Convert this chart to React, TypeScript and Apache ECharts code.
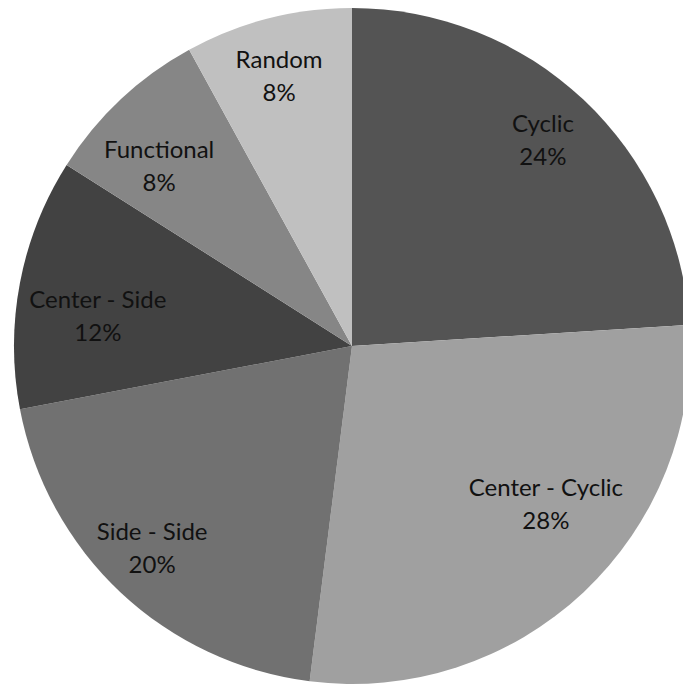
import React, { useEffect, useRef } from "react";
import * as echarts from "echarts";

// Share of each pattern type, in percent, clockwise from 12 o'clock
const categories = ["Cyclic", "Center - Cyclic", "Side - Side", "Center - Side", "Functional", "Random"];
const shares = [24, 28, 20, 12, 8, 8];
const sliceColors = ["#545454", "#a0a0a0", "#717171", "#424242", "#868686", "#c0c0c0"];
// best-fit style nudges for each slice label, [dx, dy] in px
const labelNudges = [
  [4, -8],
  [7, -42],
  [-13, 2],
  [14, 20],
  [-6, 18],
  [-5, -7],
];

export default function App() {
  const ref = useRef<HTMLDivElement>(null);

  useEffect(() => {
    if (!ref.current) return;
    const chart = echarts.init(ref.current, undefined, { renderer: "svg" });
    const center = [352, 346];
    const data = categories.map((name, i) => ({
      name,
      value: shares[i],
      itemStyle: { color: sliceColors[i] },
    }));

    chart.setOption({
      animation: false,
      backgroundColor: "#ffffff",
      series: [
        {
          type: "pie",
          center,
          radius: [0, 338],
          startAngle: 90,
          clockwise: true,
          silent: true,
          label: { show: false },
          labelLine: { show: false },
          data,
        },
        {
          // transparent ring used only to place the slice labels
          type: "pie",
          center,
          radius: [222, 318],
          startAngle: 90,
          clockwise: true,
          silent: true,
          itemStyle: { color: "rgba(0,0,0,0)" },
          label: {
            show: true,
            position: "inside",
            formatter: "{b}\n{c}%",
            color: "#111111",
            fontFamily: "Lato",
            fontSize: 24,
            lineHeight: 33,
            align: "center",
          },
          labelLine: { show: false },
          labelLayout: (p: any) => {
            const n = labelNudges[p.dataIndex] || [0, 0];
            return { dx: n[0], dy: n[1] };
          },
          data: categories.map((name, i) => ({ name, value: shares[i] })),
        },
      ],
    });

    return () => chart.dispose();
  }, []);

  return (
    <div
      ref={ref}
      style={{ position: "absolute", left: 0, top: 0, width: 683, height: 685 }}
    />
  );
}
